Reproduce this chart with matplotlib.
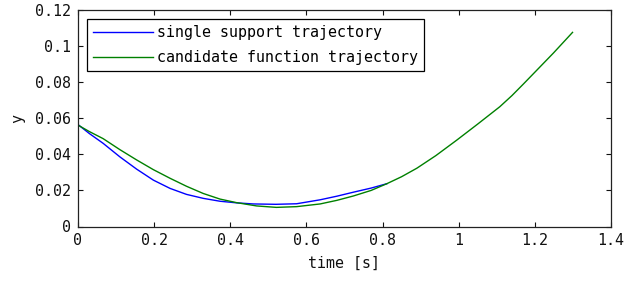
import matplotlib
matplotlib.use("Agg")
import matplotlib.pyplot as plt
import numpy as np

# single support trajectory (blue)
t_single = [0.0, 0.03, 0.066, 0.110, 0.154, 0.198, 0.242, 0.285, 0.329, 0.373, 0.417,
            0.460, 0.52, 0.574, 0.636, 0.68, 0.723, 0.77, 0.811]
y_single = [0.0565, 0.0515, 0.0461, 0.0386, 0.0318, 0.0257, 0.0211, 0.0178, 0.0156, 0.0140, 0.0131,
            0.0125, 0.0123, 0.0126, 0.0148, 0.0168, 0.0190, 0.0213, 0.0237]

# candidate function trajectory (green)
t_cand = [0.0, 0.03, 0.066, 0.110, 0.154, 0.198, 0.242, 0.285, 0.329, 0.373, 0.417, 0.469,
          0.521, 0.574, 0.636, 0.68, 0.723, 0.77, 0.811, 0.85, 0.890, 0.94, 0.995, 1.05,
          1.108, 1.14, 1.170, 1.21, 1.249, 1.299]
y_cand = [0.0562, 0.0526, 0.0487, 0.0426, 0.0369, 0.0315, 0.0267, 0.0223, 0.0183, 0.0152, 0.0132,
          0.0114, 0.0106, 0.0110, 0.0125, 0.0145, 0.0169, 0.0200, 0.0237, 0.0276, 0.0323,
          0.0393, 0.0479, 0.0568, 0.0664, 0.0726, 0.0790, 0.0877, 0.0962, 0.1076]

xticks = [0, 0.2, 0.4, 0.6, 0.8, 1, 1.2, 1.4]
xticklabels = ["0", "0.2", "0.4", "0.6", "0.8", "1", "1.2", "1.4"]
yticks = [0, 0.02, 0.04, 0.06, 0.08, 0.1, 0.12]
yticklabels = ["0", "0.02", "0.04", "0.06", "0.08", "0.1", "0.12"]

plt.rcParams['font.family'] = ['DejaVu Sans Mono']
FS = 10.8

fig = plt.figure(figsize=(6.41, 2.82), dpi=100)
W, H = 641, 282
ax = fig.add_axes([78 / W, (H - 226.5) / H, (611 - 78) / W, 216.5 / H])

ax.plot(t_single, y_single, color=(0, 0, 1), lw=1.0, label="single support trajectory")
ax.plot(t_cand, y_cand, color=(0, 0.5, 0), lw=1.0, label="candidate function trajectory")

ax.set_xlim(0, 1.4)
ax.set_ylim(0, 0.12)
ax.set_xticks(xticks)
ax.set_xticklabels(xticklabels)
ax.set_yticks(yticks)
ax.set_yticklabels(yticklabels)
ax.tick_params(direction='in', length=3.6, width=0.8, top=True, right=True,
               labelsize=FS, colors='#111111')
ax.tick_params(axis='x', pad=5)
ax.tick_params(axis='y', pad=5)
for s in ax.spines.values():
    s.set_linewidth(0.9)
    s.set_color('#222222')

ax.set_xlabel("time [s]", fontsize=FS, labelpad=5, color='#111111')
ax.set_ylabel("y", fontsize=FS, labelpad=7, color='#111111')

leg = ax.legend(loc='upper left', bbox_to_anchor=(9 / 533, 1 - 9 / 216.5), fontsize=FS,
                fancybox=False, framealpha=1, edgecolor='black', handlelength=4.0,
                handletextpad=0.25, labelspacing=0.65, borderpad=0.42, borderaxespad=0)
leg.get_frame().set_linewidth(0.9)

fig.savefig("out.png", dpi=100)
